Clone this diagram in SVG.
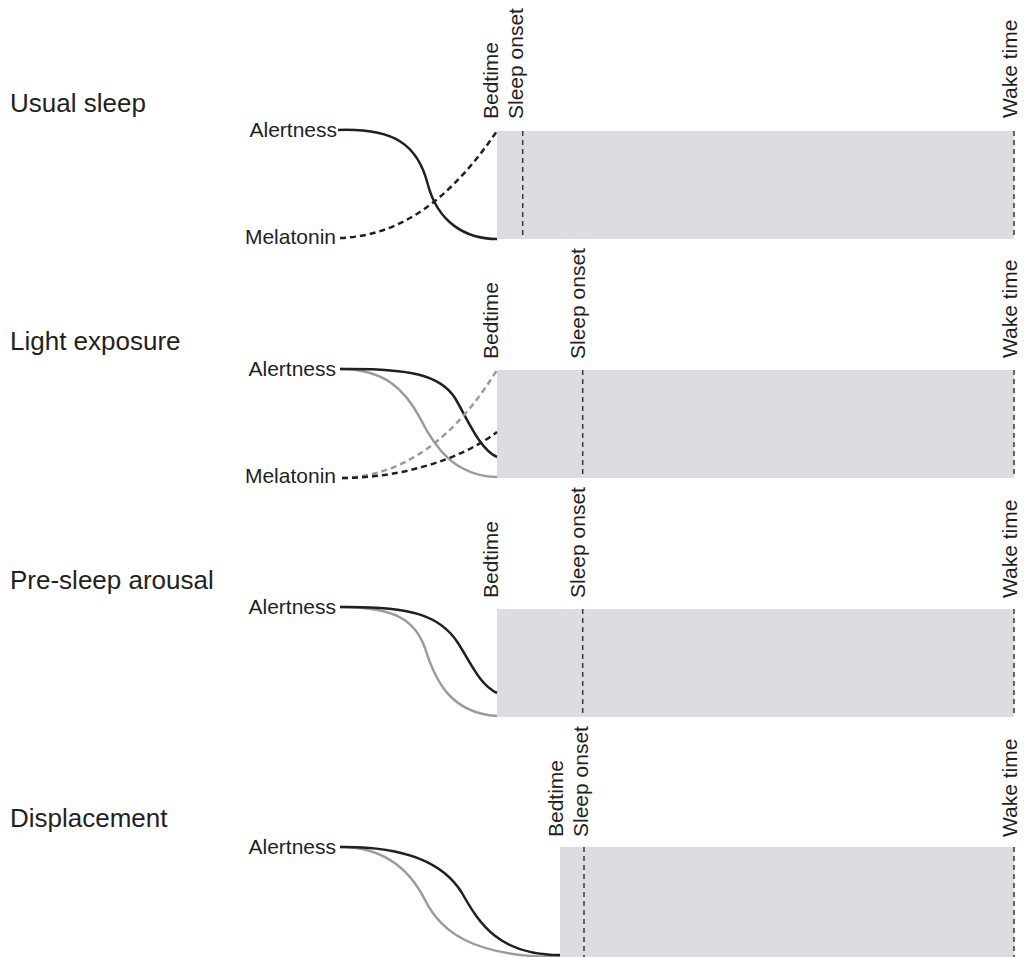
<svg xmlns="http://www.w3.org/2000/svg" width="1024" height="957" viewBox="0 0 1024 957">
<style>
.bg{fill:#ffffff}
.title{font-family:"Liberation Sans",Arial,sans-serif;font-size:26px;fill:#231f20}
.lbl{font-family:"Liberation Sans",Arial,sans-serif;font-size:21px;fill:#231f20}
.end{text-anchor:end}
.sleep{fill:#dcdde0}
.vline{stroke:#3a3a3a;stroke-width:1.5;stroke-dasharray:5 4;fill:none}
.blk{stroke:#231f20;stroke-width:2.5;fill:none}
.gry{stroke:#9b9b9b;stroke-width:2.5;fill:none}
.dash{stroke-dasharray:6 4}
</style>
<rect class="bg" x="0" y="0" width="1024" height="957"/>

<g id="panel-usual-sleep">
  <text class="title" x="10" y="112">Usual sleep</text>
  <rect class="sleep" x="497" y="131" width="517" height="108"/>
  <line class="vline" x1="522.7" y1="131" x2="522.7" y2="239"/>
  <line class="vline" x1="1014" y1="131" x2="1014" y2="239"/>
  <text class="lbl" transform="translate(498,119) rotate(-90)">Bedtime</text>
  <text class="lbl" transform="translate(523,119) rotate(-90)">Sleep onset</text>
  <text class="lbl" transform="translate(1017,118) rotate(-90)">Wake time</text>
  <text class="lbl end" x="337" y="136.5">Alertness</text>
  <text class="lbl end" x="336" y="244">Melatonin</text>
</g>

<g id="panel-light-exposure">
  <text class="title" x="10" y="350">Light exposure</text>
  <rect class="sleep" x="497" y="370" width="517" height="108"/>
  <line class="vline" x1="582.7" y1="370" x2="582.7" y2="478"/>
  <line class="vline" x1="1014" y1="370" x2="1014" y2="478"/>
  <text class="lbl" transform="translate(498,359) rotate(-90)">Bedtime</text>
  <text class="lbl" transform="translate(585,359) rotate(-90)">Sleep onset</text>
  <text class="lbl" transform="translate(1017,358) rotate(-90)">Wake time</text>
  <text class="lbl end" x="336" y="375.5">Alertness</text>
  <text class="lbl end" x="336" y="483">Melatonin</text>
</g>

<g id="panel-pre-sleep-arousal">
  <text class="title" x="10" y="589">Pre-sleep arousal</text>
  <rect class="sleep" x="497" y="609" width="517" height="108"/>
  <line class="vline" x1="582.7" y1="609" x2="582.7" y2="717"/>
  <line class="vline" x1="1014" y1="609" x2="1014" y2="717"/>
  <text class="lbl" transform="translate(498,598) rotate(-90)">Bedtime</text>
  <text class="lbl" transform="translate(585,598) rotate(-90)">Sleep onset</text>
  <text class="lbl" transform="translate(1017,598) rotate(-90)">Wake time</text>
  <text class="lbl end" x="336" y="614">Alertness</text>
</g>

<g id="panel-displacement">
  <text class="title" x="10" y="827">Displacement</text>
  <rect class="sleep" x="560" y="847" width="454" height="110"/>
  <line class="vline" x1="584" y1="847" x2="584" y2="957"/>
  <line class="vline" x1="1014" y1="847" x2="1014" y2="957"/>
  <text class="lbl" transform="translate(563,837) rotate(-90)">Bedtime</text>
  <text class="lbl" transform="translate(588,837) rotate(-90)">Sleep onset</text>
  <text class="lbl" transform="translate(1017,837) rotate(-90)">Wake time</text>
  <text class="lbl end" x="336" y="853.5">Alertness</text>
</g>

<g id="connectors">
  <!-- Usual sleep -->
  <path class="blk" d="M338,130 C395,128 418,145 428,185 C438,222 465,239 497,239"/>
  <path class="blk dash" d="M340,238 C400,236 450,200 497,131"/>
  <!-- Light exposure -->
  <path class="gry" d="M340,369 C385,369 405,390 420,418 C435,448 455,476 497,477"/>
  <path class="blk" d="M340,369 C410,368 440,375 455,398 C468,420 480,450 497,457"/>
  <path class="gry dash" d="M342,478 C410,476 460,430 497,370"/>
  <path class="blk dash" d="M342,478 C400,478 460,460 497,432"/>
  <!-- Pre-sleep arousal -->
  <path class="gry" d="M340,607 C395,607 415,620 425,648 C435,680 450,713 497,716"/>
  <path class="blk" d="M340,607 C410,606 440,615 458,643 C472,665 480,685 497,693"/>
  <!-- Displacement -->
  <path class="gry" d="M340,847 C385,847 410,870 425,900 C440,930 470,957 560,957"/>
  <path class="blk" d="M340,847 C410,846 445,865 462,893 C480,925 500,955 560,955"/>
</g>
</svg>
